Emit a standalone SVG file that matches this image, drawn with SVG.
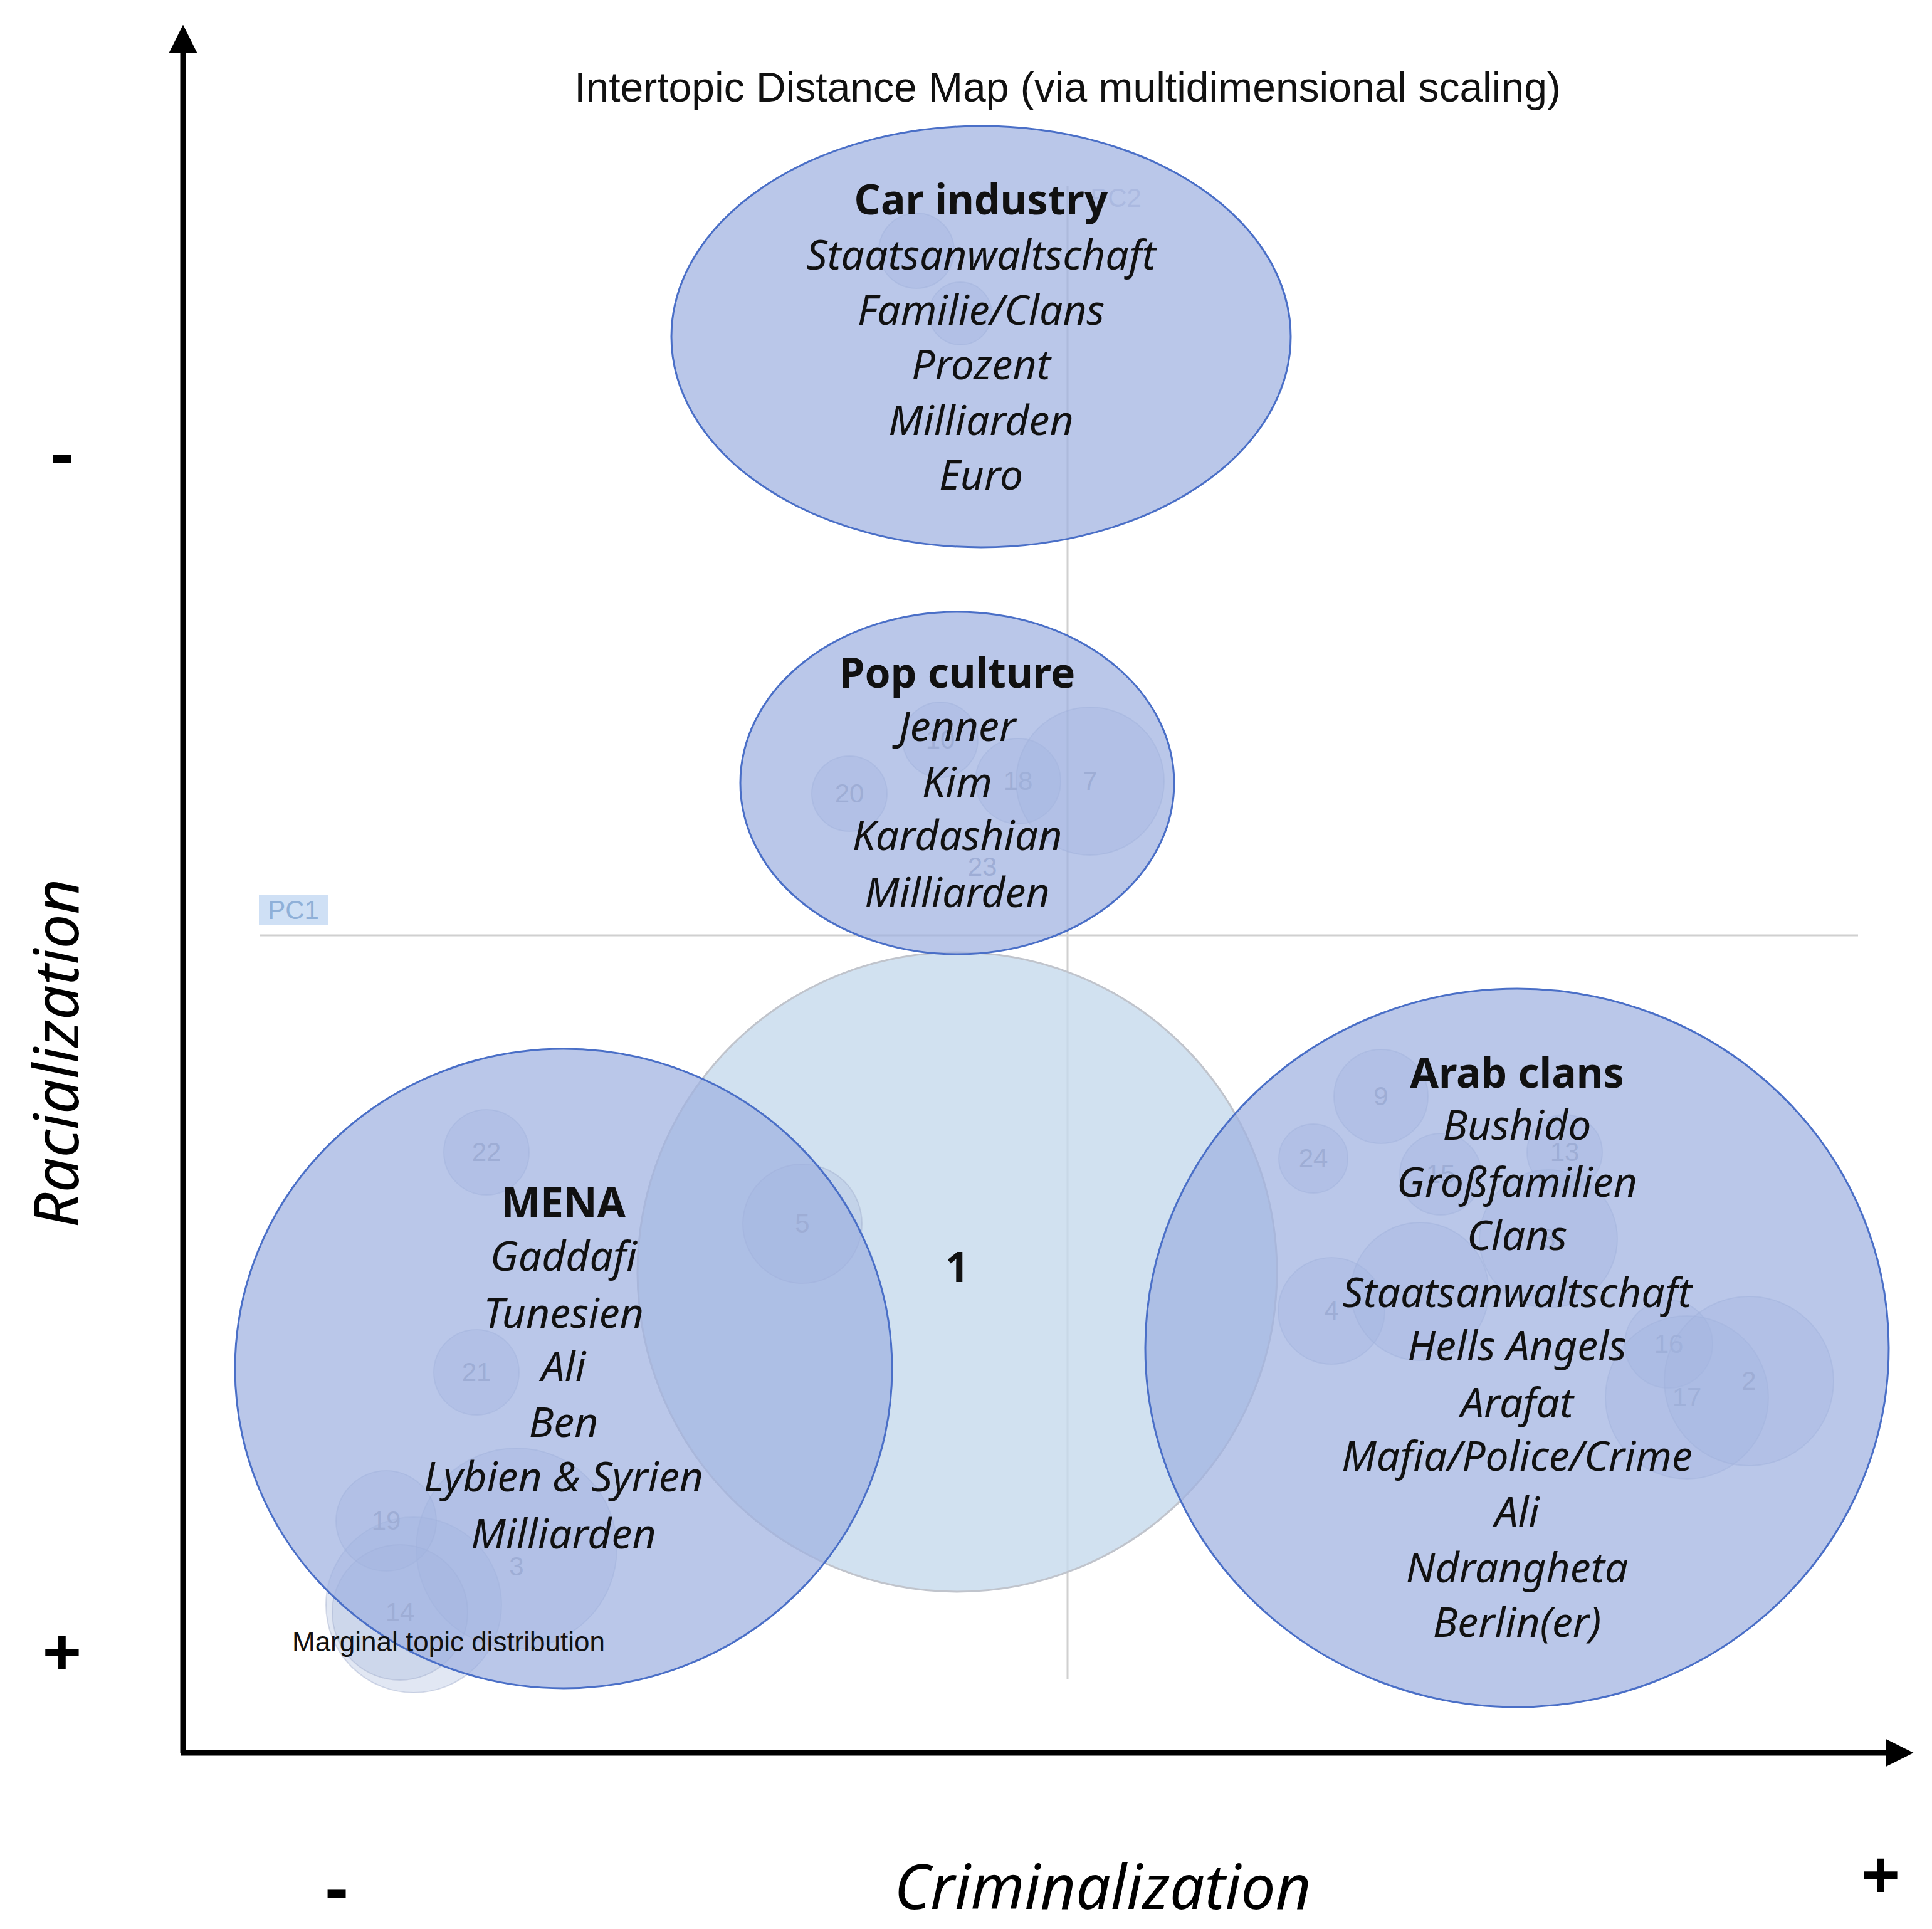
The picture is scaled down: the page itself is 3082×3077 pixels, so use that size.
<svg xmlns="http://www.w3.org/2000/svg" width="3082" height="3077" viewBox="0 0 3082 3077">
<style>
.t{font-family:"Noto Sans","Liberation Sans",sans-serif;font-size:66px;text-anchor:middle;fill:#111}
.b{font-weight:bold}
.i{font-style:italic}
.n{font-family:"Liberation Sans",sans-serif;font-size:42px;text-anchor:middle;fill:#9aa3b8}
.sc{fill:#a9b9dc;fill-opacity:0.35;stroke:#9aa8c8;stroke-opacity:0.4;stroke-width:2}
.topic{fill:#9fb2e0;fill-opacity:0.72;stroke:#4a6fc7;stroke-width:3}
.ax{stroke:#000;stroke-width:9;fill:none}
</style>
<defs>
<marker id="ah" viewBox="0 0 10 10" refX="5" refY="5" markerWidth="5" markerHeight="5" orient="auto-start-reverse"><path d="M0,0 L10,5 L0,10 z" fill="#000"/></marker>
</defs>
<rect width="3082" height="3077" fill="#fff"/>
<g id="pc-lines">
<line x1="415" y1="1492" x2="2964" y2="1492" stroke="#d0d0d0" stroke-width="3"/>
<line x1="1703" y1="296" x2="1703" y2="2678" stroke="#d0d0d0" stroke-width="3"/>
<rect x="413" y="1428" width="110" height="48" fill="#cfe0f5"/>
<text x="468" y="1466" font-family="Liberation Sans,sans-serif" font-size="42" text-anchor="middle" fill="#8fb0d8">PC1</text>
<text x="1780" y="330" font-family="Liberation Sans,sans-serif" font-size="42" text-anchor="middle" fill="#c8cede">PC2</text>
</g>
<text x="1703" y="162" font-family="Liberation Sans,sans-serif" font-size="66" text-anchor="middle" fill="#111">Intertopic Distance Map (via multidimensional scaling)</text>
<g id="topic1">
<circle cx="1527" cy="2029" r="510" fill="#c6d9ec" fill-opacity="0.8" stroke="#c0c4cc" stroke-width="3"/>
<text x="1527" y="2045" class="t b" font-size="44">1</text>
</g>
<g id="small-topics">
<circle class="sc" cx="660" cy="2560" r="140"/>
<circle class="sc" cx="824" cy="2470" r="160"/>
<circle class="sc" cx="776" cy="1838" r="68"/><text class="n" x="776" y="1852">22</text>
<circle class="sc" cx="1280" cy="1952" r="95"/><text class="n" x="1280" y="1966">5</text>
<circle class="sc" cx="760" cy="2189" r="68"/><text class="n" x="760" y="2203">21</text>
<circle class="sc" cx="616" cy="2426" r="80"/><text class="n" x="616" y="2440">19</text>
<text class="n" x="824" y="2513">3</text>
<circle class="sc" cx="638" cy="2572" r="108"/><text class="n" x="638" y="2586">14</text>
<circle class="sc" cx="1355" cy="1266" r="60"/><text class="n" x="1355" y="1280">20</text>
<circle class="sc" cx="1500" cy="1180" r="60"/><text class="n" x="1500" y="1194">10</text>
<circle class="sc" cx="1624" cy="1246" r="68"/><text class="n" x="1624" y="1260">18</text>
<circle class="sc" cx="1739" cy="1246" r="118"/><text class="n" x="1739" y="1260">7</text>
<text class="n" x="1567" y="1397">23</text>
<circle class="sc" cx="1462" cy="400" r="60"/>
<circle class="sc" cx="1532" cy="500" r="50"/>
<circle class="sc" cx="2203" cy="1749" r="75"/><text class="n" x="2203" y="1763">9</text>
<circle class="sc" cx="2095" cy="1848" r="55"/><text class="n" x="2095" y="1862">24</text>
<circle class="sc" cx="2496" cy="1838" r="60"/><text class="n" x="2496" y="1852">13</text>
<circle class="sc" cx="2298" cy="1873" r="65"/><text class="n" x="2298" y="1887">15</text>
<circle class="sc" cx="2470" cy="1976" r="110"/><text class="n" x="2470" y="1990">8</text>
<circle class="sc" cx="2124" cy="2091" r="85"/><text class="n" x="2124" y="2105">4</text>
<circle class="sc" cx="2265" cy="2060" r="110"/>
<circle class="sc" cx="2662" cy="2144" r="70"/><text class="n" x="2662" y="2158">16</text>
<circle class="sc" cx="2691" cy="2229" r="130"/><text class="n" x="2691" y="2243">17</text>
<circle class="sc" cx="2790" cy="2203" r="135"/><text class="n" x="2790" y="2217">2</text>
</g>
<g id="car-industry">
<ellipse class="topic" cx="1565" cy="537" rx="494" ry="336"/>
<text class="t b" x="1565" y="342">Car industry</text>
<text class="t i" x="1565" y="430">Staatsanwaltschaft</text>
<text class="t i" x="1565" y="518">Familie/Clans</text>
<text class="t i" x="1565" y="605">Prozent</text>
<text class="t i" x="1565" y="694">Milliarden</text>
<text class="t i" x="1565" y="781">Euro</text>
</g>
<g id="pop-culture">
<ellipse class="topic" cx="1527" cy="1249" rx="346" ry="273"/>
<text class="t b" x="1527" y="1097">Pop culture</text>
<text class="t i" x="1527" y="1182">Jenner</text>
<text class="t i" x="1527" y="1271">Kim</text>
<text class="t i" x="1527" y="1356">Kardashian</text>
<text class="t i" x="1527" y="1447">Milliarden</text>
</g>
<g id="mena">
<ellipse class="topic" cx="899" cy="2183" rx="524" ry="510"/>
<text class="t b" x="899" y="1942">MENA</text>
<text class="t i" x="899" y="2027">Gaddafi</text>
<text class="t i" x="899" y="2118">Tunesien</text>
<text class="t i" x="899" y="2203">Ali</text>
<text class="t i" x="899" y="2292">Ben</text>
<text class="t i" x="899" y="2379">Lybien &amp; Syrien</text>
<text class="t i" x="899" y="2470">Milliarden</text>
</g>
<text x="466" y="2634" font-family="Liberation Sans,sans-serif" font-size="44" fill="#111">Marginal topic distribution</text>
<g id="arab-clans">
<ellipse class="topic" cx="2420" cy="2150" rx="593" ry="573"/>
<text class="t b" x="2420" y="1735">Arab clans</text>
<text class="t i" x="2420" y="1818">Bushido</text>
<text class="t i" x="2420" y="1909">Großfamilien</text>
<text class="t i" x="2420" y="1994">Clans</text>
<text class="t i" x="2420" y="2085">Staatsanwaltschaft</text>
<text class="t i" x="2420" y="2170">Hells Angels</text>
<text class="t i" x="2420" y="2261">Arafat</text>
<text class="t i" x="2420" y="2346">Mafia/Police/Crime</text>
<text class="t i" x="2420" y="2435">Ali</text>
<text class="t i" x="2420" y="2524">Ndrangheta</text>
<text class="t i" x="2420" y="2611">Berlin(er)</text>
</g>
<g id="axes">
<path class="ax" d="M292,2796 L292,62" marker-end="url(#ah)"/>
<path class="ax" d="M288,2796 L3030,2796" marker-end="url(#ah)"/>
</g>
<g id="axis-labels" font-family="Noto Sans,Liberation Sans,sans-serif" fill="#000" text-anchor="middle">
<text x="99" y="762" font-size="110" font-weight="bold">-</text>
<text x="99" y="2675" font-size="110" font-weight="bold">+</text>
<text transform="translate(125,1680) rotate(-90)" font-size="98" font-style="italic">Racialization</text>
<text x="1759" y="3045" font-size="98" font-style="italic">Criminalization</text>
<text x="537" y="3050" font-size="110" font-weight="bold">-</text>
<text x="3000" y="3030" font-size="110" font-weight="bold">+</text>
</g>
</svg>
